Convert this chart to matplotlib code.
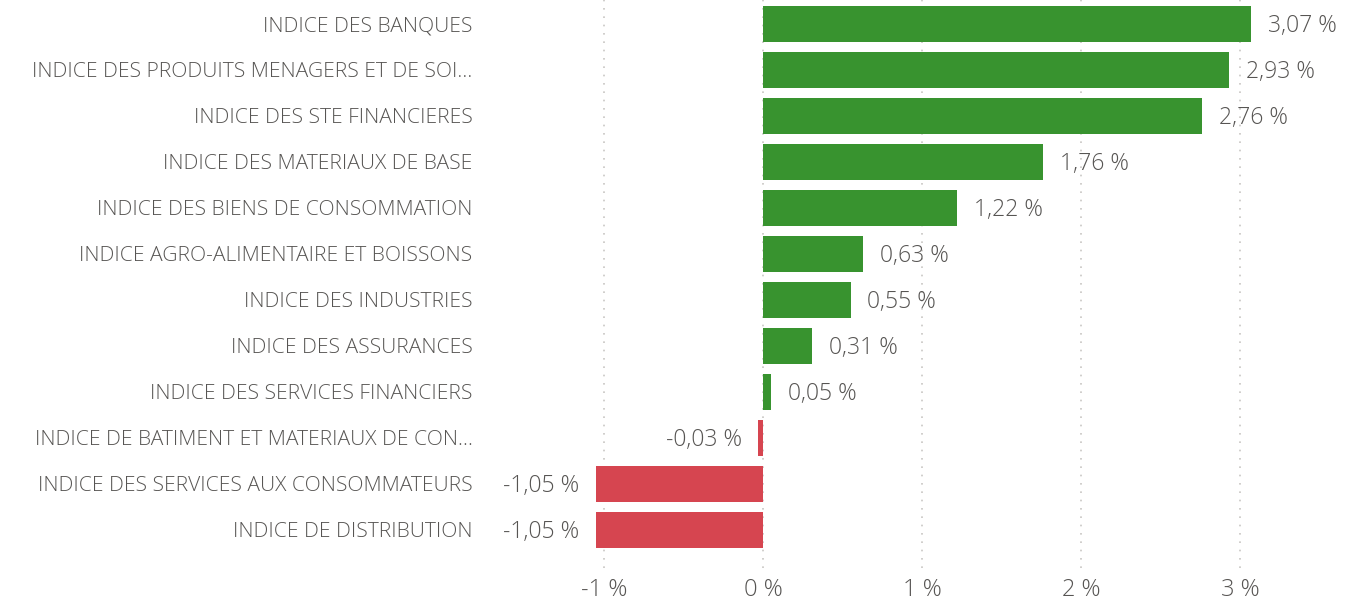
import matplotlib
matplotlib.use("Agg")
import matplotlib.pyplot as plt
from matplotlib.ticker import FixedLocator

categories = [
    "INDICE DES BANQUES",
    "INDICE DES PRODUITS MENAGERS ET DE SOI…",
    "INDICE DES STE FINANCIERES",
    "INDICE DES MATERIAUX DE BASE",
    "INDICE DES BIENS DE CONSOMMATION",
    "INDICE AGRO-ALIMENTAIRE ET BOISSONS",
    "INDICE DES INDUSTRIES",
    "INDICE DES ASSURANCES",
    "INDICE DES SERVICES FINANCIERS",
    "INDICE DE BATIMENT ET MATERIAUX DE CON…",
    "INDICE DES SERVICES AUX CONSOMMATEURS",
    "INDICE DE DISTRIBUTION",
]
values = [3.07, 2.93, 2.76, 1.76, 1.22, 0.63, 0.55, 0.31, 0.05, -0.03, -1.05, -1.05]
x_ticks = [-1, 0, 1, 2, 3]
x_tick_labels = ["-1 %", "0 %", "1 %", "2 %", "3 %"]

GREEN = "#38932F"
RED = "#D64550"
TEXT = "#575553"

plt.rcParams['font.family'] = ['Open Sans', 'DejaVu Sans']
plt.rcParams['font.weight'] = 'light'

W, H = 1364, 600
fig = plt.figure(figsize=(W / 100, H / 100), dpi=100)
ax = fig.add_axes([485 / W, 1 - 568 / H, (W - 485) / W, 568 / H])

ypos = list(range(len(categories)))
colors = [GREEN if v >= 0 else RED for v in values]
ax.barh(ypos, values, height=0.78, color=colors, zorder=3)

ax.set_xlim(-1.75, 3.78)
ax.set_ylim(11.83, -0.52)

ax.set_yticks(ypos)
ax.set_yticklabels(categories, fontsize=15.1, color=TEXT)
ax.tick_params(axis='y', length=0, pad=9)
ax.xaxis.set_major_locator(FixedLocator(x_ticks))
ax.set_xticklabels(x_tick_labels, fontsize=17, color=TEXT)
ax.tick_params(axis='x', length=0, pad=7)

ax.grid(axis='x', linestyle=(0, (1, 4)), color="#C8C6C4", linewidth=1.2, zorder=0)
for s in ax.spines.values():
    s.set_visible(False)

for y, v in zip(ypos, values):
    lab = f"{v:.2f}".replace(".", ",") + " %"
    if v >= 0:
        ax.annotate(lab, (v, y), xytext=(12, -1.5), textcoords='offset points',
                    ha='left', va='center', fontsize=16.6, color=TEXT)
    else:
        ax.annotate(lab, (v, y), xytext=(-12, -1.5), textcoords='offset points',
                    ha='right', va='center', fontsize=16.6, color=TEXT)

fig.savefig("out.png", dpi=100, facecolor="white")
